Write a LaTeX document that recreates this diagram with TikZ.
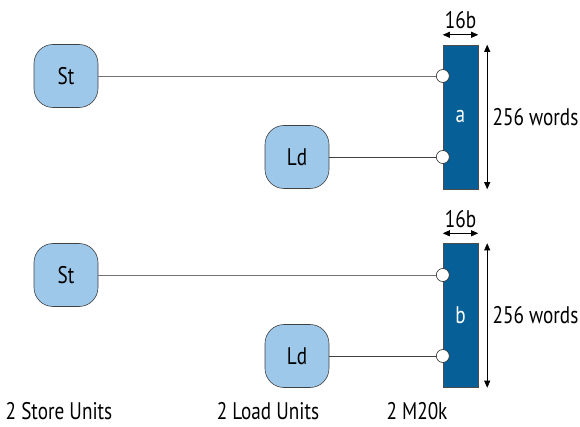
\documentclass[tikz,border=0pt]{standalone}
\usepackage{fontspec}
\setmainfont{PT Sans}[FakeStretch=0.8]
\usepackage{tikz}
\usetikzlibrary{positioning,arrows.meta}
\definecolor{unitblue}{HTML}{9DC8EA}
\definecolor{ramblue}{HTML}{065F97}

\begin{document}
\begin{tikzpicture}[x=1pt, y=-1pt, node distance=6pt, font=\fontsize{24}{28}\selectfont,
  unit/.style={draw=black!75, fill=unitblue, rounded corners=19pt, minimum width=64pt, minimum height=63pt, line width=0.6pt},
  ram/.style={draw=black!70, fill=ramblue, text=white, minimum width=35pt, minimum height=144pt, inner sep=0pt},
  port/.style={circle, draw=black!85, fill=white, minimum size=13pt, inner sep=0pt, line width=0.6pt},
  wire/.style={draw=black!75, line width=0.6pt},
  dim/.style={{Triangle[length=7pt,width=6pt]}-{Triangle[length=7pt,width=6pt]}, line width=0.6pt},
  caption/.style={anchor=base, inner sep=1pt}]
\useasboundingbox (0,0) rectangle (580,427);

% bank a
\node[ram] (mema) at (460.5,117) {a};
\node[unit] (sta) at (66,76) {St};
\node[unit] (lda) at (297,157) {Ld};
\node[port] (pasta) at (mema.west |- sta) {};
\node[port] (palda) at (mema.west |- lda) {};
\draw[wire, draw=black!55] (sta) -- (pasta);
\draw[wire] (lda) -- (palda);
\draw[dim] ([yshift=10pt] mema.north west) -- ([yshift=10pt] mema.north east);
\node[above=12pt of mema] (widtha) {16b};
\draw[dim] ([xshift=9pt] mema.north east) -- ([xshift=9pt] mema.south east);
\node[right=11pt of mema] (deptha) {256 words};

% bank b
\node[ram] (memb) at (460.5,315.5) {b};
\node[unit] (stb) at (66,275) {St};
\node[unit] (ldb) at (297,356) {Ld};
\node[port] (pastb) at (memb.west |- stb) {};
\node[port] (paldb) at (memb.west |- ldb) {};
\draw[wire, draw=black!55] (stb) -- (pastb);
\draw[wire] (ldb) -- (paldb);
\draw[dim] ([yshift=10pt] memb.north west) -- ([yshift=10pt] memb.north east);
\node[above=12pt of memb] (widthb) {16b};
\draw[dim] ([xshift=9pt] memb.north east) -- ([xshift=9pt] memb.south east);
\node[right=11pt of memb] (depthb) {256 words};

% captions
\node[caption] (capst) at (59,419) {2 Store Units};
\node[caption] (capld) at (268,419) {2 Load Units};
\node[caption] (capram) at (417,419) {2 M20k};
\end{tikzpicture}
\end{document}
